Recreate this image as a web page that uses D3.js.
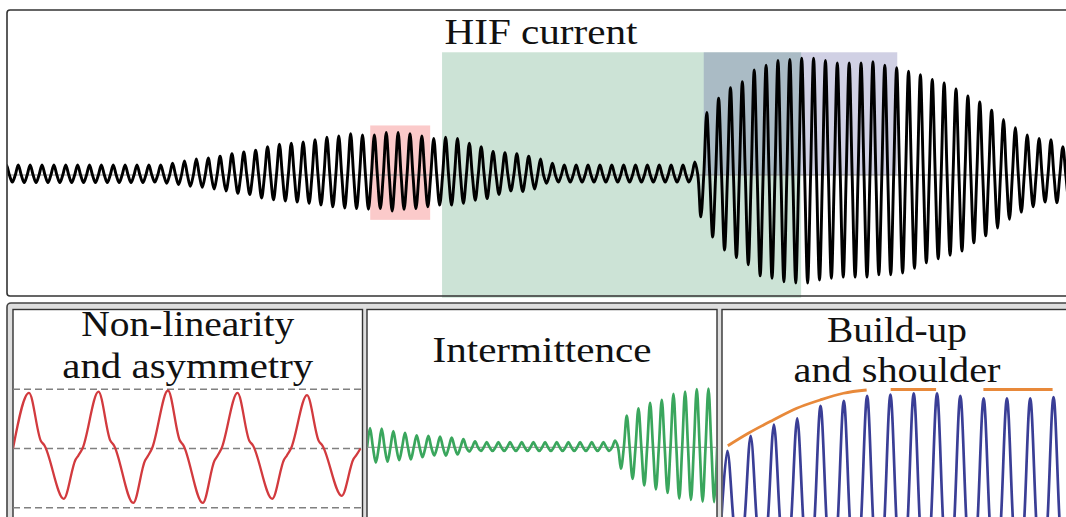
<!DOCTYPE html>
<html>
<head>
<meta charset="utf-8">
<script src="https://cdn.jsdelivr.net/npm/d3@7"></script>
<style>
  html, body { margin: 0; padding: 0; background: #fff; overflow: hidden; }
  svg { display: block; font-family: "Liberation Serif", "Times New Roman", serif; }
</style>
</head>
<body>
<div id="chart"></div>
<script>
// ---- data ----
// HIF current, one value per cycle (per unit), first entry is cycle -1
const hifFirstCycle = -1;
const hifPeaks = [
  0.085, 0.085, 0.085, 0.085, 0.085, 0.085, 0.085, 0.085, 0.085, 0.085,
  0.085, 0.085, 0.085, 0.085, 0.10, 0.12, 0.135, 0.145, 0.16, 0.18,
  0.195, 0.21, 0.24, 0.26, 0.27, 0.28, 0.30, 0.32, 0.33, 0.35,
  0.34, 0.34, 0.36, 0.36, 0.35, 0.33, 0.31, 0.32, 0.31, 0.27,
  0.24, 0.20, 0.19, 0.18, 0.16, 0.135, 0.10, 0.085, 0.085, 0.085,
  0.085, 0.085, 0.085, 0.085, 0.085, 0.085, 0.085, 0.085, 0.11, 0.53,
  0.65, 0.74, 0.79, 0.89, 0.93, 0.97, 0.98, 0.99, 0.99, 0.97,
  0.95, 0.95, 0.95, 0.96, 0.93, 0.91, 0.88, 0.85, 0.81, 0.78,
  0.73, 0.67, 0.62, 0.55, 0.47, 0.40, 0.34, 0.31, 0.30, 0.24
];
const hifTroughs = [
  0.06, 0.065, 0.065, 0.065, 0.065, 0.065, 0.065, 0.065, 0.065, 0.065,
  0.065, 0.065, 0.06, 0.07, 0.08, 0.095, 0.105, 0.12, 0.135, 0.155,
  0.165, 0.195, 0.21, 0.22, 0.23, 0.24, 0.255, 0.27, 0.28, 0.285,
  0.29, 0.285, 0.305, 0.29, 0.285, 0.27, 0.255, 0.255, 0.24, 0.215,
  0.20, 0.165, 0.135, 0.14, 0.12, 0.07, 0.06, 0.06, 0.06, 0.06,
  0.06, 0.06, 0.06, 0.06, 0.06, 0.06, 0.06, 0.06, 0.355, 0.525,
  0.635, 0.70, 0.76, 0.855, 0.875, 0.905, 0.915, 0.915, 0.89, 0.875,
  0.865, 0.865, 0.865, 0.845, 0.845, 0.83, 0.79, 0.745, 0.71, 0.68,
  0.645, 0.575, 0.515, 0.45, 0.375, 0.315, 0.27, 0.23, 0.235, 0.21
];
// one cycle: [phase, share of peak (+) or trough (-)]
const sineShape = [[0, 0], [0.25, 1], [0.5, 0], [0.75, -1]];

// windows highlighted on the HIF trace: cycles and per-unit values
const windowNames = ["intermittence", "buildup", "nonlinearity"];
const windowCycles = [[35.95, 66.2], [58.0, 74.3], [29.9, 34.95]];
const windowValues = [[-1.04, 1.04], [0, 1.04], [-0.38, 0.42]];

// non-linearity and asymmetry example (5 cycles)
const nlPeaks = [0.94, 0.96, 0.98, 0.94, 0.90];
const nlTroughs = [0.85, 0.92, 0.92, 0.85, 0.80];
const nlShape = [[0, 0], [0.23, 1], [0.40, 0.14], [0.45, 0.06], [0.73, -1], [0.90, -0.22], [0.94, -0.14]];
const nlGuides = [-1, 0, 1];

// cycle ranges of the HIF trace shown in the lower panels
const intermittenceCycles = [36, 66];
const buildupCycles = [58, 74];
const buildupEnvelope = [[58.27, 0.57], [59.15, 0.67], [60.22, 0.776], [61.23, 0.87], [62.23, 0.936], [63.23, 0.99], [64.23, 1.016]];
const shoulderLevels = [[65.26, 67.21, 1.02], [69.24, 72.21, 1.02]];

const topTitle = "HIF current";
const panelTitles = [["Non-linearity", "and asymmetry"], ["Intermittence"], ["Build-up", "and shoulder"]];

// ---- drawing ----
const colors = {
  hif: "#000", red: "#d23a3e", green: "#3aa65d", blue: "#3a3e96", orange: "#e8893a",
  intermittence: "#338f5b", buildup: "#434393", nonlinearity: "#f03c3c"
};

const svg = d3.select("#chart").append("svg").attr("width", 1066).attr("height", 517);
const defs = svg.append("defs");
const clip = (id, x, y, w, h) => {
  defs.append("clipPath").attr("id", id).append("rect")
    .attr("x", x).attr("y", y).attr("width", w).attr("height", h);
  return `url(#${id})`;
};

// build the polyline points of a wave from per-cycle peaks/troughs
const wavePoints = (peaks, troughs, firstCycle, shape) => {
  const pts = [];
  peaks.forEach((p, i) => {
    shape.forEach(([ph, r]) => pts.push([firstCycle + i + ph, r >= 0 ? r * p : r * troughs[i]]));
  });
  pts.push([firstCycle + peaks.length, 0]);
  return pts;
};
const slice = (arr, c0, c1) => arr.slice(c0 - hifFirstCycle, c1 - hifFirstCycle);

const title = (g, text, cx, baseline, width) => {
  g.append("text")
    .attr("x", cx - width / 2).attr("y", baseline)
    .attr("textLength", width).attr("lengthAdjust", "spacingAndGlyphs")
    .attr("font-size", 36).attr("fill", "#111")
    .text(text);
};

// Top panel
const topX = d3.scaleLinear().domain([-0.7, 88.6]).range([7, 1067]);
const topY = d3.scaleLinear().domain([-1, 1]).range([293, 57]);
const gTop = svg.append("g");
gTop.append("rect").attr("x", 7).attr("y", 10).attr("width", 1070).attr("height", 286).attr("fill", "#fff");

gTop.selectAll("rect.win")
  .data(windowNames)
  .join("rect")
  .attr("class", "win")
  .attr("x", (d, i) => topX(windowCycles[i][0]))
  .attr("width", (d, i) => topX(windowCycles[i][1]) - topX(windowCycles[i][0]))
  .attr("y", (d, i) => topY(windowValues[i][1]))
  .attr("height", (d, i) => topY(windowValues[i][0]) - topY(windowValues[i][1]))
  .attr("fill", (d) => colors[d])
  .attr("fill-opacity", (d) => (d === "nonlinearity" ? 0.27 : 0.25));

gTop.append("line")
  .attr("x1", 7).attr("x2", 1066).attr("y1", topY(0)).attr("y2", topY(0))
  .attr("stroke", "#8a8a8a").attr("stroke-width", 1);

const topLine = d3.line().x((d) => topX(d[0])).y((d) => topY(d[1])).curve(d3.curveCatmullRom);
gTop.append("path")
  .attr("clip-path", clip("clipTop", 7, 10, 1070, 286))
  .attr("d", topLine(wavePoints(hifPeaks, hifTroughs, hifFirstCycle, sineShape)))
  .attr("fill", "none").attr("stroke", colors.hif).attr("stroke-width", 2.9)
  .attr("stroke-linejoin", "round");

gTop.append("rect").attr("x", 7).attr("y", 10).attr("width", 1070).attr("height", 286)
  .attr("rx", 3).attr("fill", "none").attr("stroke", "#333").attr("stroke-width", 1.6);
title(gTop, topTitle, 541, 44, 193);

// Lower tray
svg.append("rect").attr("x", 7).attr("y", 303).attr("width", 1075).attr("height", 230)
  .attr("rx", 4).attr("fill", "#dedede").attr("stroke", "#444").attr("stroke-width", 1.6);

const panels = [
  { x: 13, w: 349.5, lines: [[335.5, 213], [377.5, 251]] },
  { x: 367, w: 350, lines: [[361.7, 219]] },
  { x: 722, w: 350, lines: [[341.7, 140], [382, 207]] }
];
const panelY = 309.5, panelH = 230;

panels.forEach((p, i) => {
  const g = svg.append("g");
  g.append("rect").attr("x", p.x).attr("y", panelY).attr("width", p.w).attr("height", panelH)
    .attr("fill", "#fff").attr("stroke", "#333").attr("stroke-width", 1.4);
  p.g = g;
  p.clip = clip("clipP" + i, p.x + 0.7, panelY + 0.7, p.w - 1.4, panelH);
});

// Panel 1: non-linearity and asymmetry
{
  const p = panels[0];
  const x = d3.scaleLinear().domain([0, nlPeaks.length]).range([13, 360.5]);
  const y = d3.scaleLinear().domain([-1, 1]).range([507.7, 389.3]);
  p.g.selectAll("line.guide").data(nlGuides).join("line")
    .attr("class", "guide")
    .attr("x1", p.x).attr("x2", p.x + p.w)
    .attr("y1", (d) => y(d)).attr("y2", (d) => y(d))
    .attr("stroke", "#808080").attr("stroke-width", 1.4).attr("stroke-dasharray", "7,4");
  const line = d3.line().x((d) => x(d[0])).y((d) => y(d[1])).curve(d3.curveMonotoneX);
  p.g.append("path").attr("clip-path", p.clip)
    .attr("d", line(wavePoints(nlPeaks, nlTroughs, 0, nlShape)))
    .attr("fill", "none").attr("stroke", colors.red).attr("stroke-width", 2.3);
}

// Panel 2: intermittence
{
  const p = panels[1];
  const [c0, c1] = intermittenceCycles;
  const x = d3.scaleLinear().domain([c0, c1]).range([367.1, 717.2]);
  const y = d3.scaleLinear().domain([-1, 1]).range([507.3, 387.3]);
  p.g.append("line").attr("x1", p.x).attr("x2", p.x + p.w).attr("y1", y(0)).attr("y2", y(0))
    .attr("stroke", "#8a8a8a").attr("stroke-width", 1);
  const line = d3.line().x((d) => x(d[0])).y((d) => y(d[1])).curve(d3.curveCatmullRom);
  p.g.append("path").attr("clip-path", p.clip)
    .attr("d", line(wavePoints(slice(hifPeaks, c0, c1), slice(hifTroughs, c0, c1), c0, sineShape)))
    .attr("fill", "none").attr("stroke", colors.green).attr("stroke-width", 2.7);
}

// Panel 3: build-up and shoulder
{
  const p = panels[2];
  const [c0, c1] = buildupCycles;
  const x = d3.scaleLinear().domain([c0, c1 - 1]).range([721.5, 1071]);
  const y = d3.scaleLinear().domain([0, 1]).range([517, 392]);
  const line = d3.line().x((d) => x(d[0])).y((d) => y(d[1])).curve(d3.curveCatmullRom);
  p.g.append("path").attr("clip-path", p.clip)
    .attr("d", line(wavePoints(slice(hifPeaks, c0, c1), slice(hifTroughs, c0, c1), c0, sineShape)))
    .attr("fill", "none").attr("stroke", colors.blue).attr("stroke-width", 2.7);
  const env = d3.line().x((d) => x(d[0])).y((d) => y(d[1])).curve(d3.curveMonotoneX);
  p.g.append("path").attr("d", env(buildupEnvelope))
    .attr("fill", "none").attr("stroke", colors.orange).attr("stroke-width", 2.8);
  p.g.selectAll("line.shoulder").data(shoulderLevels).join("line")
    .attr("class", "shoulder")
    .attr("x1", (d) => x(d[0])).attr("x2", (d) => x(d[1]))
    .attr("y1", (d) => y(d[2])).attr("y2", (d) => y(d[2]))
    .attr("stroke", colors.orange).attr("stroke-width", 2.8);
}

// Panel titles
panels.forEach((p, i) => {
  panelTitles[i].forEach((t, j) => title(p.g, t, p.x + p.w / 2, p.lines[j][0], p.lines[j][1]));
});
</script>
</body>
</html>
